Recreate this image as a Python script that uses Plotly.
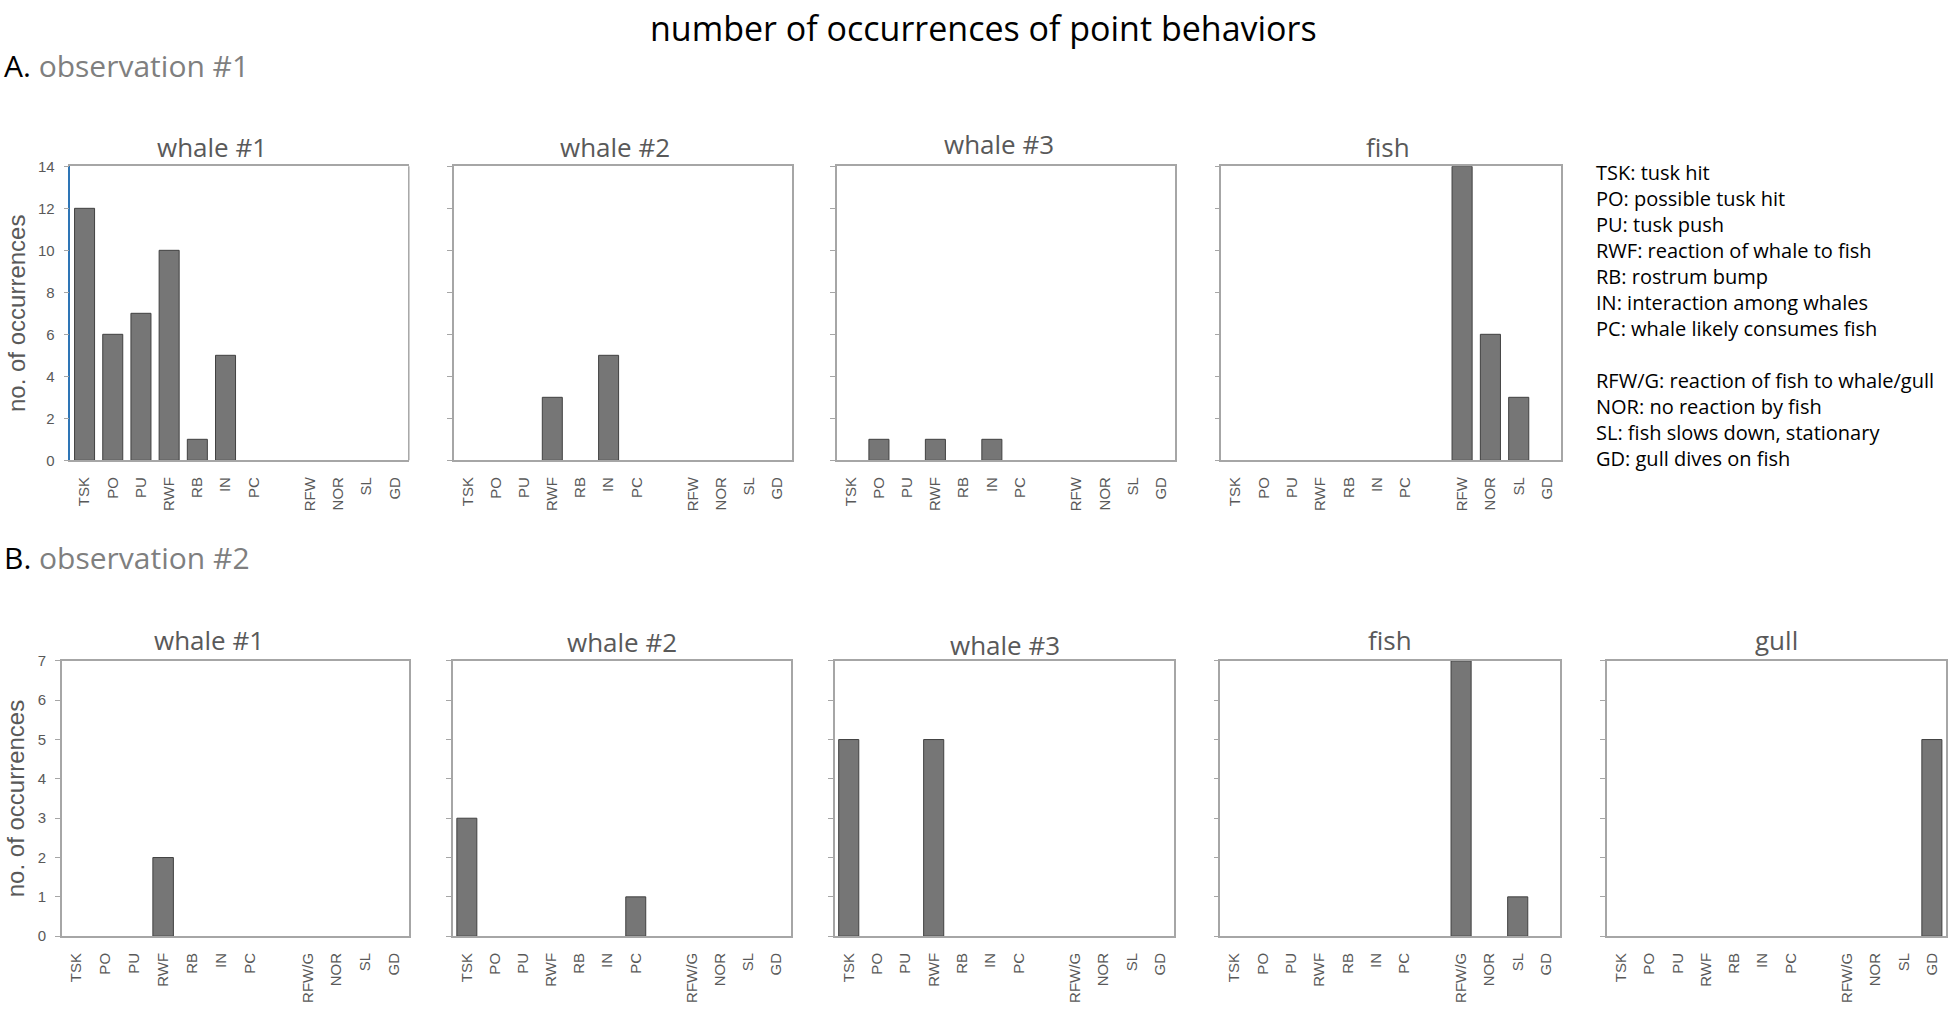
import plotly.graph_objects as go

# behaviour codes on the x axis (the empty slot is the gap Excel leaves)
codes_obs1 = ['TSK', 'PO', 'PU', 'RWF', 'RB', 'IN', 'PC', '', 'RFW', 'NOR', 'SL', 'GD']
codes_obs2 = ['TSK', 'PO', 'PU', 'RWF', 'RB', 'IN', 'PC', '', 'RFW/G', 'NOR', 'SL', 'GD']

# observation #1 counts
obs1_whale1 = [12, 6, 7, 10, 1, 5, 0, None, 0, 0, 0, 0]
obs1_whale2 = [0, 0, 0, 3, 0, 5, 0, None, 0, 0, 0, 0]
obs1_whale3 = [0, 1, 0, 1, 0, 1, 0, None, 0, 0, 0, 0]
obs1_fish = [0, 0, 0, 0, 0, 0, 0, None, 14, 6, 3, 0]

# observation #2 counts
obs2_whale1 = [0, 0, 0, 2, 0, 0, 0, None, 0, 0, 0, 0]
obs2_whale2 = [3, 0, 0, 0, 0, 0, 1, None, 0, 0, 0, 0]
obs2_whale3 = [5, 0, 0, 5, 0, 0, 0, None, 0, 0, 0, 0]
obs2_fish = [0, 0, 0, 0, 0, 0, 0, None, 7, 0, 1, 0]
obs2_gull = [0, 0, 0, 0, 0, 0, 0, None, 0, 0, 0, 5]

obs1_names = ['whale #1', 'whale #2', 'whale #3', 'fish']
obs2_names = ['whale #1', 'whale #2', 'whale #3', 'fish', 'gull']

legend_lines = [
    'TSK: tusk hit',
    'PO: possible tusk hit',
    'PU: tusk push',
    'RWF: reaction of whale to fish',
    'RB: rostrum bump',
    'IN: interaction among whales',
    'PC: whale likely consumes fish',
    '',
    'RFW/G: reaction of fish to whale/gull',
    'NOR: no reaction by fish',
    'SL: fish slows down, stationary',
    'GD: gull dives on fish',
]

W, H = 1948, 1014
TITLE_FONT = 'Open Sans, Lato, sans-serif'
AXIS_FONT = 'Liberation Sans, Arial, sans-serif'
FRAME = '#a6a6a6'
TEXT_GRAY = '#595959'


def px_x(v):
    return v / W


def px_y(v):
    return 1 - v / H


# panel boxes in pixels: (left, right), row (top, bottom)
obs1_boxes = [(70.5, 409), (454, 792), (837, 1176), (1222, 1562)]
obs2_boxes = [(62, 409), (453, 791), (835, 1175), (1221, 1561), (1608, 1947)]
row1 = (160, 459)
row2 = (663, 943)
# panel title positions (centre x, centre y) in pixels
obs1_title_pos = [(212, 140), (615, 140), (1000, 137), (1389, 140)]
obs2_title_pos = [(209, 642), (622, 644), (1006, 647), (1391, 642), (1777, 642)]

fig = go.Figure()
layout = {}
annotations = []
shapes = []

panels = []
for i, (name, vals) in enumerate(zip(obs1_names, [obs1_whale1, obs1_whale2, obs1_whale3, obs1_fish])):
    panels.append((name, vals, codes_obs1, obs1_boxes[i], row1, 14, 2, i == 0, obs1_title_pos[i]))
for i, (name, vals) in enumerate(zip(obs2_names, [obs2_whale1, obs2_whale2, obs2_whale3, obs2_fish, obs2_gull])):
    panels.append((name, vals, codes_obs2, obs2_boxes[i], row2, 7, 1, i == 0, obs2_title_pos[i]))

for n, (name, vals, codes, box, row, ymax, dtick, first, tpos) in enumerate(panels, start=1):
    sfx = '' if n == 1 else str(n)
    cats = [c if c else ' ' for c in codes]
    # Excel draws nothing for a zero count
    shown = [v if v else None for v in vals]
    fig.add_trace(go.Bar(
        x=cats, y=shown,
        xaxis='x' + sfx, yaxis='y' + sfx,
        marker_color='#767676',
        marker_line_color='#404040',
        marker_line_width=1,
        showlegend=False,
        hoverinfo='x+y',
    ))
    layout['xaxis' + sfx] = dict(
        domain=[px_x(box[0]), px_x(box[1])],
        anchor='y' + sfx,
        type='category',
        categoryorder='array', categoryarray=cats,
        tickangle=-90,
        tickfont=dict(family=AXIS_FONT, size=15, color=TEXT_GRAY),
        showline=True, linecolor=FRAME, linewidth=1.5, mirror=True,
        ticks='', showgrid=False, ticklabelstandoff=9,
        fixedrange=True,
    )
    blue = first and ymax == 14
    layout['yaxis' + sfx] = dict(
        domain=[px_y(row[1]), px_y(row[0])],
        anchor='x' + sfx,
        range=[0, ymax], dtick=dtick,
        showticklabels=first,
        tickfont=dict(family=AXIS_FONT, size=15, color=TEXT_GRAY),
        ticks='outside', ticklen=5, tickcolor=FRAME, tickwidth=1,
        showline=True, linecolor='#2e75b6' if blue else FRAME, linewidth=1.5,
        mirror=not blue,
        showgrid=False, zeroline=False, ticklabelstandoff=6,
        fixedrange=True,
    )
    if blue:
        shapes.append(dict(type='line', xref='x domain', yref='y domain',
                           x0=1, x1=1, y0=0, y1=1,
                           line=dict(color=FRAME, width=1.5)))
    if first:
        layout['yaxis' + sfx]['title'] = dict(
            text='no. of occurrences',
            font=dict(family=AXIS_FONT, size=24, color=TEXT_GRAY),
            standoff=6,
        )
    annotations.append(dict(
        text=name, x=px_x(tpos[0]), y=px_y(tpos[1]),
        xref='paper', yref='paper', xanchor='center', yanchor='middle',
        showarrow=False, font=dict(family=TITLE_FONT, size=26, color=TEXT_GRAY),
    ))

annotations.append(dict(
    text='number of occurrences of point behaviors',
    x=px_x(984), y=px_y(19), xref='paper', yref='paper',
    xanchor='center', yanchor='middle', showarrow=False,
    font=dict(family=TITLE_FONT, size=34, color='black'),
))
annotations.append(dict(
    text='A. <span style="color:#7f7f7f">observation #1</span>',
    x=px_x(2), y=px_y(57), xref='paper', yref='paper',
    xanchor='left', yanchor='middle', showarrow=False,
    font=dict(family=TITLE_FONT, size=30, color='black'),
))
annotations.append(dict(
    text='B. <span style="color:#7f7f7f">observation #2</span>',
    x=px_x(2), y=px_y(558), xref='paper', yref='paper',
    xanchor='left', yanchor='middle', showarrow=False,
    font=dict(family=TITLE_FONT, size=30, color='black'),
))
annotations.append(dict(
    text='<br>'.join(legend_lines),
    x=px_x(1595), y=px_y(151), xref='paper', yref='paper',
    xanchor='left', yanchor='top', align='left', showarrow=False,
    font=dict(family=TITLE_FONT, size=20, color='black'),
))

fig.update_layout(
    width=W, height=H,
    margin=dict(l=0, r=0, t=0, b=0),
    paper_bgcolor='white', plot_bgcolor='white',
    bargap=0.29,
    annotations=annotations,
    shapes=shapes,
    **layout,
)

# drop the browser's default body margin so the figure fills the window exactly
fig.write_html(
    "out.html",
    config={'displayModeBar': False},
    post_script="document.body.style.margin='0';document.body.style.overflow='hidden';",
)
